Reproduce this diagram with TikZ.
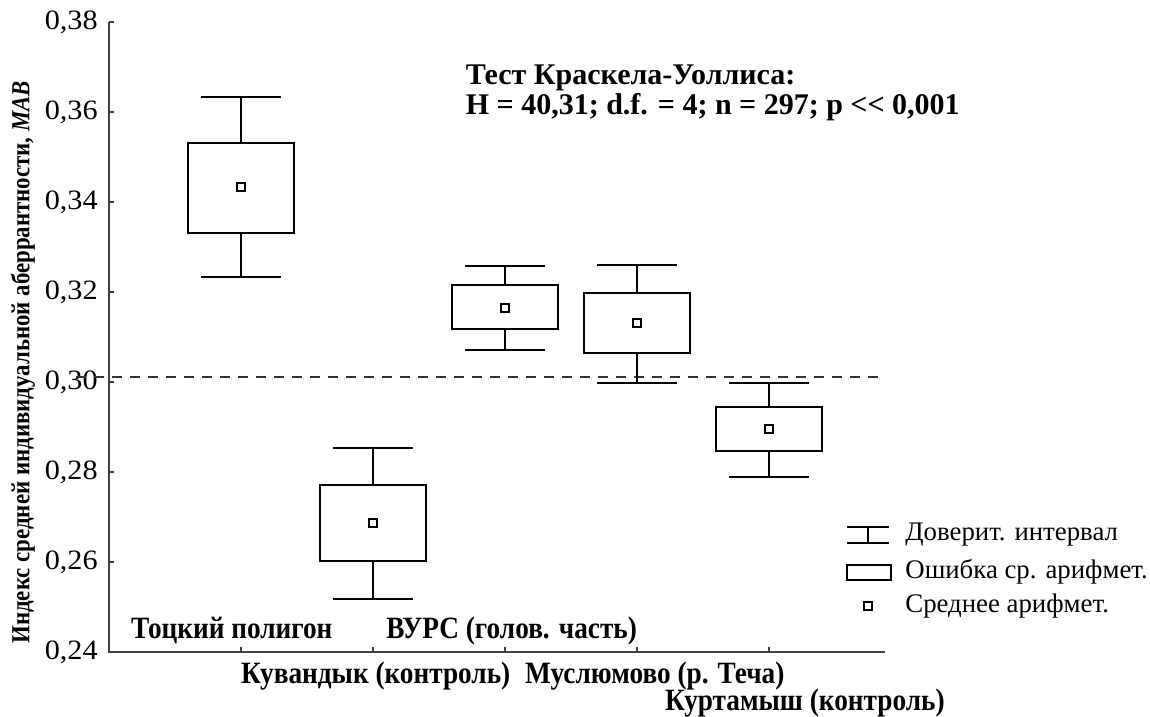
\documentclass[tikz,border=0pt]{standalone}
\usepackage{fontspec}
\setmainfont{Liberation Serif}
\newfontfamily\tickfont{Liberation Serif}[FakeStretch=1.08]
\newfontfamily\narrowfont{Liberation Serif}[FakeStretch=0.88]
\usetikzlibrary{calc}

\begin{document}
\begin{tikzpicture}[x=66pt,y=22.5pt,
    whisk/.style={black, line width=1pt},
    meanpt/.style={draw=black, fill=white, line width=1pt, rectangle, inner sep=0pt, minimum size=4pt},
    axisline/.style={black!75, line width=0.8pt},
    refline/.style={black!80, line width=1pt, dash pattern=on 5pt off 4pt},
    ticklab/.style={black, anchor=east, inner sep=0pt, font=\tickfont\fontsize{14}{16}\selectfont},
    grplab/.style={black, anchor=base, inner sep=0pt, font=\narrowfont\bfseries\fontsize{15.5}{17}\selectfont},
    leglab/.style={black, anchor=west, inner sep=0pt, font=\fontsize{13.4}{15}\selectfont}]
    \useasboundingbox (-0.826,22.556) rectangle (7.886,38.489);
    % Draw axes
    \draw[axisline] (0,38) -- (0,24) -- (5.88,24);
    \foreach \v in {24,26,...,38}
    {
        \draw[axisline] (0,\v) -- ++(2.5pt,0);
        \node[ticklab] (t\v) at (-0.083,\v) {0,\v};
    }
    \foreach \c in {1,...,5}
    {
        \draw[axisline] (\c,24) -- ++(0,2.5pt);
    }
    \node[black, rotate=90, font=\narrowfont\bfseries\fontsize{13}{15}\selectfont] (ytitle) at (-0.652,30.44)
        {Индекс средней индивидуальной аберрантности, \textit{MAB}};
    % Draw reference level
    \draw[refline] (-0.25,30.11) -- (5.88,30.11);
    % Draw boxes: position / whisker low / box low / mean / box high / whisker high
    \foreach \c/\wl/\bl/\m/\bh/\wh in {1/32.33/33.31/34.33/35.31/36.33,
                                       2/25.18/26.02/26.87/27.71/28.53,
                                       3/30.71/31.18/31.64/32.16/32.58,
                                       4/29.98/30.64/31.31/31.98/32.60,
                                       5/27.89/28.47/28.96/29.44/29.98}
    {
        \draw[whisk] (\c-0.3,\wh) -- (\c+0.3,\wh);
        \draw[whisk] (\c,\wh) -- (\c,\bh);
        \draw[whisk] (\c,\bl) -- (\c,\wl);
        \draw[whisk] (\c-0.3,\wl) -- (\c+0.3,\wl);
        \filldraw[whisk, fill=white] (\c-0.4,\bl) rectangle (\c+0.4,\bh);
        \node[meanpt] (m\c) at (\c,\m) {};
    }
    % Test result
    \node[black, anchor=west, align=left, inner sep=0pt, font=\bfseries\fontsize{15}{15}\selectfont] (test) at (2.70,36.42)
        {Тест Краскела-Уоллиса:\\H = 40,31; d.f. = 4; n = 297; p <{}< 0,001};
    % Group labels
    \node[grplab] (g1) at (0.93,24.29) {Тоцкий полигон};
    \node[grplab] (g3) at (3.05,24.29) {ВУРС (голов. часть)};
    \node[grplab] (g2) at (2.02,23.31) {Кувандык (контроль)};
    \node[grplab, anchor=base west] (g4) at (3.15,23.31) {Муслюмово (р. Теча)};
    \node[grplab, anchor=base west] (g5) at (4.21,22.69) {Куртамыш (контроль)};
    % Legend
    \draw[whisk] (5.59,26.78) -- (5.91,26.78);
    \draw[whisk] (5.75,26.78) -- (5.75,26.42);
    \draw[whisk] (5.59,26.42) -- (5.91,26.42);
    \node[leglab] (l1) at (6.03,26.60) {Доверит. интервал};
    \draw[whisk] (5.59,25.60) rectangle (5.92,25.93);
    \node[leglab] (l2) at (6.03,25.78) {Ошибка ср. арифмет.};
    \node[meanpt] (lm) at (5.75,25.02) {};
    \node[leglab] (l3) at (6.03,25.02) {Среднее арифмет.};
\end{tikzpicture}
\end{document}
